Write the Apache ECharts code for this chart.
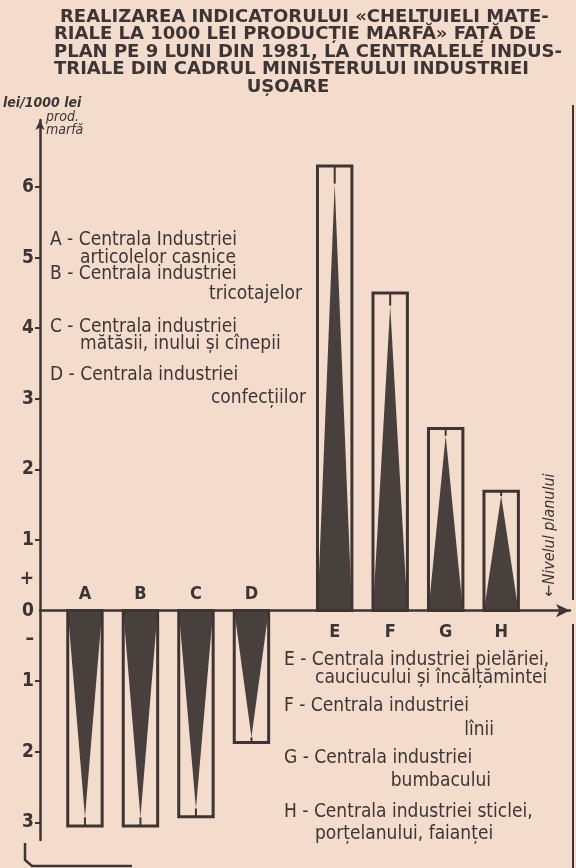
<!DOCTYPE html>
<html>
<head>
<meta charset="utf-8">
<script src="https://cdn.jsdelivr.net/npm/echarts@6/dist/echarts.min.js"></script>
<style>
  html, body { margin: 0; padding: 0; background: #f4dccc; }
  #chart { width: 576px; height: 868px; }
</style>
</head>
<body>
<div id="chart"></div>
<script>
// valori (lei / 1000 lei prod. marfă fata de plan)
const categories = ['A', 'B', 'C', 'D', 'E', 'F', 'G', 'H'];
const values = [-3.05, -3.05, -2.92, -1.87, 6.3, 4.5, 2.58, 1.69];
const tickValues = [-3, -2, -1, 0, 1, 2, 3, 4, 5, 6];

const titleLines = [
    'REALIZAREA INDICATORULUI «CHELTUIELI MATE-',
    'RIALE LA 1000 LEI PRODUCȚIE MARFĂ» FAȚĂ DE',
    'PLAN PE 9 LUNI DIN 1981, LA CENTRALELE INDUS-',
    'TRIALE DIN CADRUL MINISTERULUI INDUSTRIEI',
    'UȘOARE'
];
const legendLeft = [
    'A - Centrala Industriei', 'articolelor casnice',
    'B - Centrala industriei', 'tricotajelor',
    'C - Centrala industriei', 'mătăsii, inului și cînepii',
    'D - Centrala industriei', 'confecțiilor'
];
const legendRight = [
    'E - Centrala industriei pielăriei,', 'cauciucului și încălțămintei',
    'F - Centrala industriei', 'lînii',
    'G - Centrala industriei', 'bumbacului',
    'H - Centrala industriei sticlei,', 'porțelanului, faianței'
];

const INK = '#3c3533';
const FONT = "'Liberation Sans Narrow', 'DejaVu Sans Condensed', sans-serif";
const GAP = 0.5; // spatiu intre grupa A-D si E-H

const chart = echarts.init(document.getElementById('chart'));

const seriesData = values.map((v, i) => [i + (i >= 4 ? GAP : 0), v]);

function renderBar(params, api) {
    const x = api.value(0);
    const v = api.value(1);
    const base = api.coord([x, 0]);
    const end = api.coord([x, v]);
    const w = api.size([0.62, 0])[0];
    const cx = base[0];
    const top = Math.min(base[1], end[1]);
    const h = Math.abs(end[1] - base[1]);
    const tipY = base[1] + (end[1] - base[1]) * 0.96;
    const labelY = v < 0 ? base[1] - 16 : base[1] + 22;
    return {
        type: 'group',
        children: [
            {
                type: 'polygon',
                shape: { points: [[cx - w / 2, base[1]], [cx + w / 2, base[1]], [cx, tipY]] },
                style: { fill: '#47403d' }
            },
            {
                type: 'line',
                shape: { x1: cx, y1: tipY, x2: cx, y2: end[1] },
                style: { stroke: INK, lineWidth: 2 }
            },
            {
                type: 'rect',
                shape: { x: cx - w / 2, y: top, width: w, height: h },
                style: { fill: 'none', stroke: INK, lineWidth: 3 }
            },
            {
                type: 'text',
                x: cx, y: labelY,
                style: {
                    text: categories[params.dataIndex],
                    fill: INK, font: "bold 18px " + FONT,
                    align: 'center', verticalAlign: 'middle'
                }
            }
        ]
    };
}

const graphics = [];
titleLines.forEach((t, i) => {
    graphics.push({
        type: 'text',
        left: i === 4 ? 'center' : (i === 0 ? 60 : 54),
        top: 8 + i * 17.5,
        style: { text: t, fill: INK, font: "bold 18px 'DejaVu Sans', sans-serif" }
    });
});

const leftPos = [[50, 240, 'left'], [80, 258, 'left'], [50, 274, 'left'], [302, 294, 'right'],
    [50, 327, 'left'], [80, 344, 'left'], [50, 375, 'left'], [306, 398, 'right']];
legendLeft.forEach((t, i) => {
    const p = leftPos[i];
    graphics.push({
        type: 'text', x: p[0], y: p[1],
        style: { text: t, fill: INK, font: "19px " + FONT, align: p[2], verticalAlign: 'middle' }
    });
});
const rightPos = [[284, 660, 'left'], [315, 678, 'left'], [284, 706, 'left'], [494, 730, 'right'],
    [284, 758, 'left'], [491, 781, 'right'], [284, 812, 'left'], [315, 834, 'left']];
legendRight.forEach((t, i) => {
    const p = rightPos[i];
    graphics.push({
        type: 'text', x: p[0], y: p[1],
        style: { text: t, fill: INK, font: "19px " + FONT, align: p[2], verticalAlign: 'middle' }
    });
});

// unitatea de masura
graphics.push({
    type: 'text', x: 3, y: 96,
    style: { text: 'lei/1000 lei', fill: INK, font: "italic bold 14px " + FONT }
});
graphics.push({
    type: 'text', x: 46, y: 111,
    style: { text: 'prod.\nmarfă', fill: INK, font: "italic 14px " + FONT, lineHeight: 13 }
});
// nivelul planului
graphics.push({
    type: 'text', x: 550, y: 535, rotation: Math.PI / 2,
    style: { text: '←Nivelul planului', fill: INK, font: "italic 16px " + FONT, align: 'center', verticalAlign: 'middle' }
});
// chenar dreapta si colt stanga jos
graphics.push({
    type: 'line', shape: { x1: 573, y1: 105, x2: 573, y2: 600 },
    style: { stroke: INK, lineWidth: 2 }
});
graphics.push({
    type: 'line', shape: { x1: 573, y1: 624, x2: 573, y2: 868 },
    style: { stroke: INK, lineWidth: 2 }
});
graphics.push({
    type: 'polyline', shape: { points: [[25, 843], [25, 860], [32, 866], [132, 866]] },
    style: { stroke: INK, lineWidth: 2.5, fill: 'none' }
});

const option = {
    backgroundColor: '#f4dccc',
    animation: false,
    grid: { left: 40, right: 6, top: 120, bottom: 28 },
    xAxis: {
        type: 'value',
        min: -0.81,
        max: 8.74,
        axisLine: {
            show: true, onZero: true,
            symbol: ['none', 'arrow'], symbolSize: [10, 14],
            lineStyle: { color: INK, width: 2.5 }
        },
        axisTick: { show: false },
        axisLabel: { show: false },
        splitLine: { show: false }
    },
    yAxis: {
        type: 'value',
        min: -3.25,
        max: 6.95,
        axisLine: {
            show: true, onZero: false,
            symbol: ['none', 'arrow'], symbolSize: [7, 10],
            lineStyle: { color: INK, width: 2.5 }
        },
        axisTick: {
            show: true, length: 5, customValues: tickValues.filter(v => v !== 0),
            lineStyle: { color: INK, width: 2 }
        },
        axisLabel: {
            show: true,
            customValues: tickValues.concat([0.45, -0.4]),
            margin: 6,
            color: INK,
            fontFamily: FONT,
            fontWeight: 'bold',
            fontSize: 19,
            formatter: (v) => {
                if (Math.abs(v - 0.45) < 0.01) return '+';
                if (Math.abs(v + 0.4) < 0.01) return '–';
                return String(Math.abs(v));
            }
        },
        splitLine: { show: false }
    },
    series: [
        {
            type: 'custom',
            renderItem: renderBar,
            data: seriesData,
            clip: false
        }
    ],
    graphic: graphics
};

chart.setOption(option);
</script>
</body>
</html>
